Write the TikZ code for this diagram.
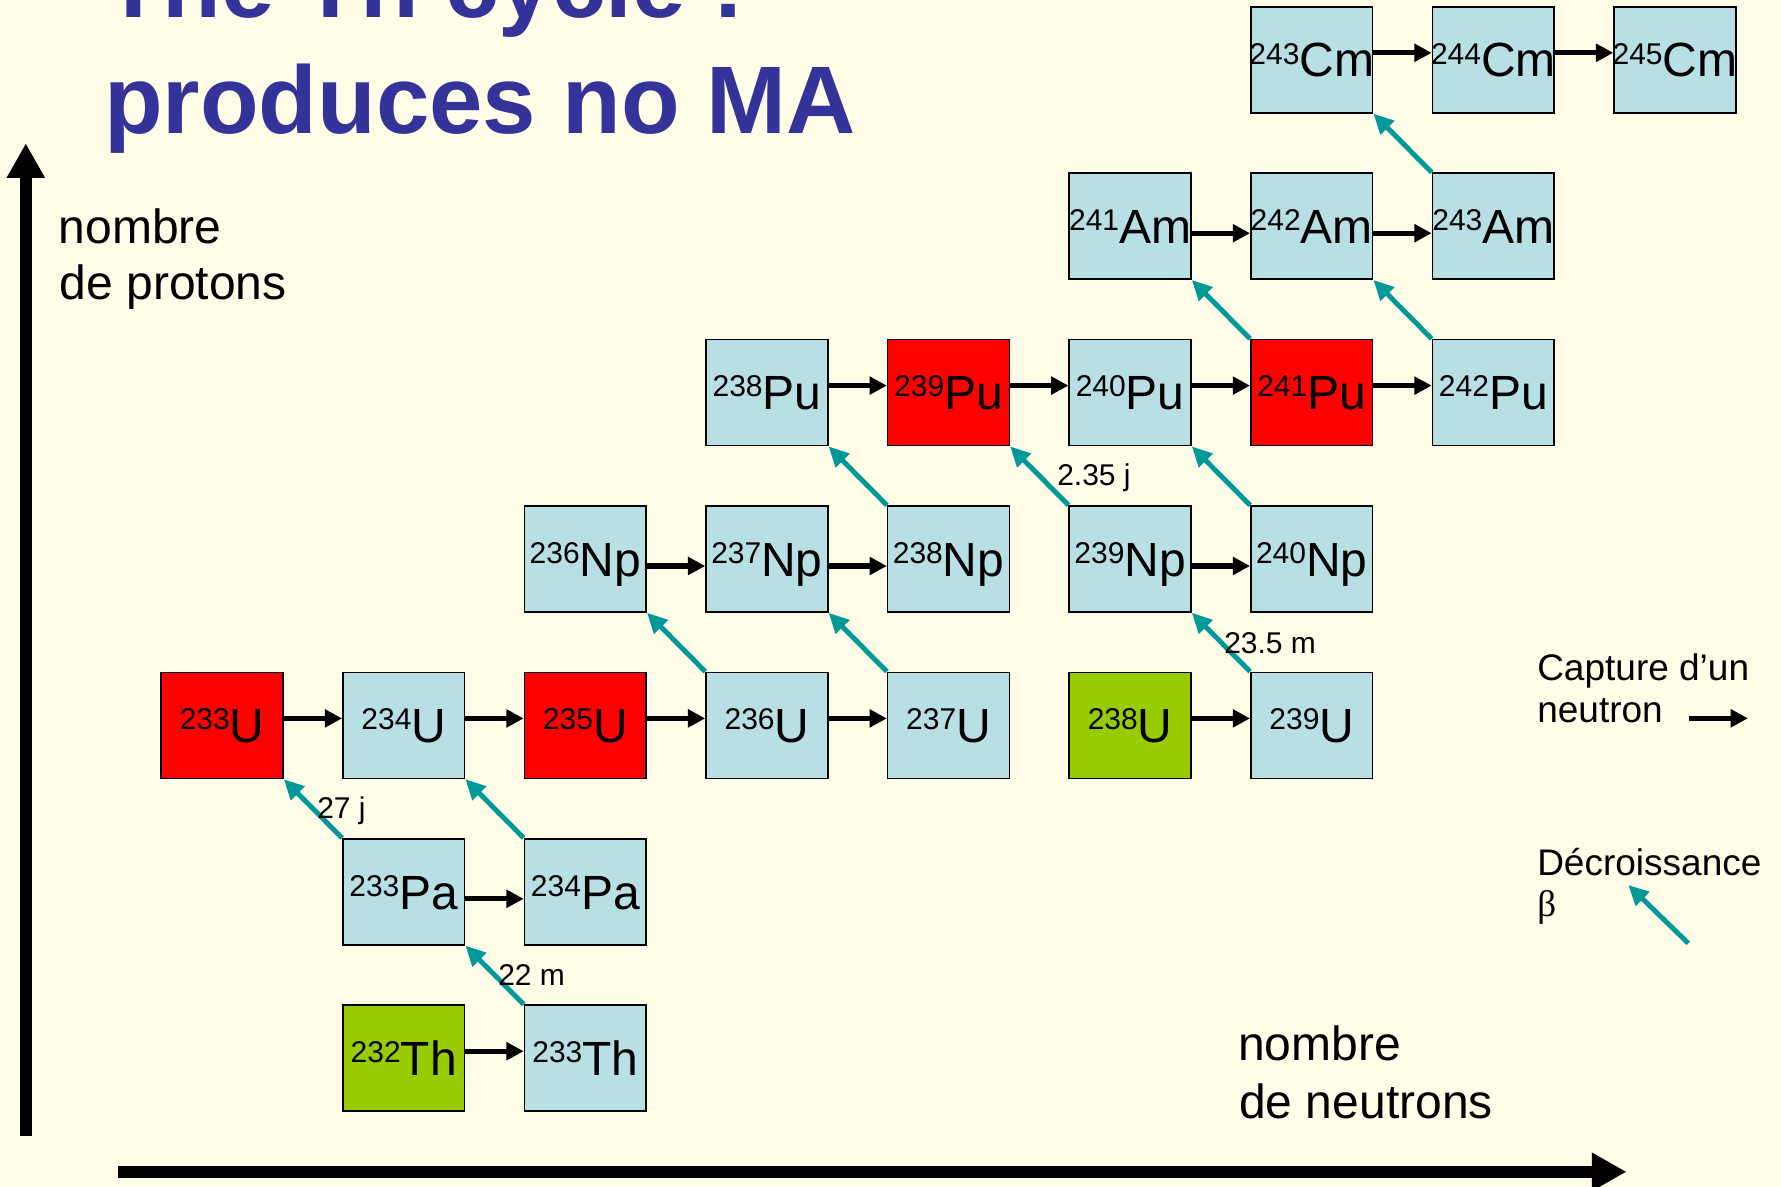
\documentclass[tikz,border=0pt]{standalone}
\usepackage{fontspec}
\setmainfont{Liberation Sans}
\newfontfamily\serifbeta{Liberation Serif}
\usetikzlibrary{arrows.meta}
\definecolor{bgc}{HTML}{FFFDE8}
\definecolor{lb}{HTML}{B8DFE3}
\definecolor{rd}{HTML}{FF0000}
\definecolor{gr}{HTML}{99CC00}
\definecolor{tealc}{HTML}{009999}
\definecolor{titlec}{HTML}{333399}
\newcommand{\iso}[2]{\makebox[0pt]{\fontsize{22.5pt}{22.5pt}\selectfont\raisebox{9.7pt}{#1}\fontsize{36pt}{36pt}\selectfont #2}}
\tikzset{
  isobox/.style={draw=black, line width=1.2pt, minimum width=91.3pt, minimum height=79.5pt,
    inner sep=0pt, text height=25.8pt, text depth=0pt, fill=lb},
  redbox/.style={isobox, fill=rd},
  grbox/.style={isobox, fill=gr},
  capt/.style={line width=4pt, -{Triangle[length=13pt,width=13pt]}},
  betaarr/.style={draw=tealc, line width=3.7pt, -{Triangle[length=15pt,width=14pt]}},
  axisarr/.style={line width=8.8pt, -{Triangle[length=26pt,width=27pt]}},
  lbl/.style={anchor=base west, inner sep=0pt, font=\fontsize{22.5pt}{22.5pt}\selectfont},
  leg/.style={anchor=base west, inner sep=0pt, font=\fontsize{27.75pt}{27.75pt}\selectfont},
  axl/.style={anchor=base west, inner sep=0pt, font=\fontsize{36pt}{36pt}\selectfont},
  ttl/.style={anchor=base west, inner sep=0pt, text=titlec, font=\fontsize{72pt}{72pt}\selectfont\bfseries},
}
\begin{document}
\begin{tikzpicture}[x=0.75pt,y=-0.75pt]
\fill[bgc] (0,0) rectangle (1781,1187);
\useasboundingbox (0,0) rectangle (1781,1187);

% title
\node[ttl] (t1) at (104,18) {The Th cycle :};
\node[ttl] (t2) at (104,134) {produces no MA};

% axes
\coordinate (vb) at (25.8,1136);
\coordinate (vt) at (25.8,143.3);
\coordinate (hl) at (118,1171.8);
\coordinate (hr) at (1626.5,1171.8);
\draw[axisarr] (vb) -- (vt);
\draw[axisarr] (hl) -- (hr);

\node[axl] (np1) at (58.5,243.3) {nombre};
\node[axl] (np2) at (59.5,300) {de protons};
\node[axl] (nn1) at (1238,1060.7) {nombre};
\node[axl] (nn2) at (1239,1118.3) {de neutrons};

% boxes: cx = 222.15+181.6 i ; cy = 59.8+166.4 j
\node[isobox] (cm243) at (1311.75,59.8) {\iso{243}{Cm}};
\node[isobox] (cm244) at (1493.35,59.8) {\iso{244}{Cm}};
\node[isobox] (cm245) at (1674.95,59.8) {\iso{245}{Cm}};

\node[isobox] (am241) at (1130.15,226.2) {\iso{241}{Am}};
\node[isobox] (am242) at (1311.75,226.2) {\iso{242}{Am}};
\node[isobox] (am243) at (1493.35,226.2) {\iso{243}{Am}};

\node[isobox] (pu238) at (766.95,392.6) {\iso{238}{Pu}};
\node[redbox] (pu239) at (948.55,392.6) {\iso{239}{Pu}};
\node[isobox] (pu240) at (1130.15,392.6) {\iso{240}{Pu}};
\node[redbox] (pu241) at (1311.75,392.6) {\iso{241}{Pu}};
\node[isobox] (pu242) at (1493.35,392.6) {\iso{242}{Pu}};

\node[isobox] (np236) at (585.35,559.0) {\iso{236}{Np}};
\node[isobox] (np237) at (766.95,559.0) {\iso{237}{Np}};
\node[isobox] (np238) at (948.55,559.0) {\iso{238}{Np}};
\node[isobox] (np239) at (1130.15,559.0) {\iso{239}{Np}};
\node[isobox] (np240) at (1311.75,559.0) {\iso{240}{Np}};

\node[redbox] (u233) at (222.15,725.4) {\iso{233}{U}};
\node[isobox] (u234) at (403.75,725.4) {\iso{234}{U}};
\node[redbox] (u235) at (585.35,725.4) {\iso{235}{U}};
\node[isobox] (u236) at (766.95,725.4) {\iso{236}{U}};
\node[isobox] (u237) at (948.55,725.4) {\iso{237}{U}};
\node[grbox]  (u238) at (1130.15,725.4) {\iso{238}{U}};
\node[isobox] (u239) at (1311.75,725.4) {\iso{239}{U}};

\node[isobox] (pa233) at (403.75,891.8) {\iso{233}{Pa}};
\node[isobox] (pa234) at (585.35,891.8) {\iso{234}{Pa}};

\node[grbox]  (th232) at (403.75,1058.2) {\iso{232}{Th}};
\node[isobox] (th233) at (585.35,1058.2) {\iso{233}{Th}};

% neutron captures
\def\up{5.25pt}
\def\dn{-5.25pt}
\draw[capt] ([yshift=\up]cm243.east) -- ([yshift=\up]cm244.west);
\draw[capt] ([yshift=\up]cm244.east) -- ([yshift=\up]cm245.west);
\draw[capt] ([yshift=\dn]am241.east) -- ([yshift=\dn]am242.west);
\draw[capt] ([yshift=\dn]am242.east) -- ([yshift=\dn]am243.west);
\draw[capt] ([yshift=\up]pu238.east) -- ([yshift=\up]pu239.west);
\draw[capt] ([yshift=\up]pu239.east) -- ([yshift=\up]pu240.west);
\draw[capt] ([yshift=\up]pu240.east) -- ([yshift=\up]pu241.west);
\draw[capt] ([yshift=\up]pu241.east) -- ([yshift=\up]pu242.west);
\draw[capt] ([yshift=\dn]np236.east) -- ([yshift=\dn]np237.west);
\draw[capt] ([yshift=\dn]np237.east) -- ([yshift=\dn]np238.west);
\draw[capt] ([yshift=\dn]np239.east) -- ([yshift=\dn]np240.west);
\draw[capt] ([yshift=\up]u233.east) -- ([yshift=\up]u234.west);
\draw[capt] ([yshift=\up]u234.east) -- ([yshift=\up]u235.west);
\draw[capt] ([yshift=\up]u235.east) -- ([yshift=\up]u236.west);
\draw[capt] ([yshift=\up]u236.east) -- ([yshift=\up]u237.west);
\draw[capt] ([yshift=\up]u238.east) -- ([yshift=\up]u239.west);
\draw[capt] ([yshift=\dn]pa233.east) -- ([yshift=\dn]pa234.west);
\draw[capt] ([yshift=\up]th232.east) -- ([yshift=\up]th233.west);

% beta decays
\draw[betaarr] (th233.north west) -- (pa233.south east);
\draw[betaarr] (pa233.north west) -- (u233.south east);
\draw[betaarr] (pa234.north west) -- (u234.south east);
\draw[betaarr] (u236.north west) -- (np236.south east);
\draw[betaarr] (u237.north west) -- (np237.south east);
\draw[betaarr] (u239.north west) -- (np239.south east);
\draw[betaarr] (np238.north west) -- (pu238.south east);
\draw[betaarr] (np239.north west) -- (pu239.south east);
\draw[betaarr] (np240.north west) -- (pu240.south east);
\draw[betaarr] (pu241.north west) -- (am241.south east);
\draw[betaarr] (pu242.north west) -- (am242.south east);
\draw[betaarr] (am243.north west) -- (cm243.south east);

% half-life labels
\node[lbl] (l27) at (317,818.3) {27 j};
\node[lbl] (l22) at (498,985) {22 m};
\node[lbl] (l235) at (1057,485) {2.35 j};
\node[lbl] (l23) at (1224,653.3) {23.5 m};

% legend
\node[leg] (lg1) at (1537,680) {Capture d’un};
\node[leg] (lg2) at (1537,722) {neutron};
\coordinate (la1) at (1689,718.3);
\coordinate (la2) at (1748,718.3);
\draw[capt] (la1) -- (la2);
\node[leg] (lg3) at (1537,875) {Décroissance};
\node[leg] (lg4) at (1537,916) {\serifbeta β};
\coordinate (lb1) at (1688.3,943.3);
\coordinate (lb2) at (1628.3,885);
\draw[betaarr] (lb1) -- (lb2);
\end{tikzpicture}
\end{document}
